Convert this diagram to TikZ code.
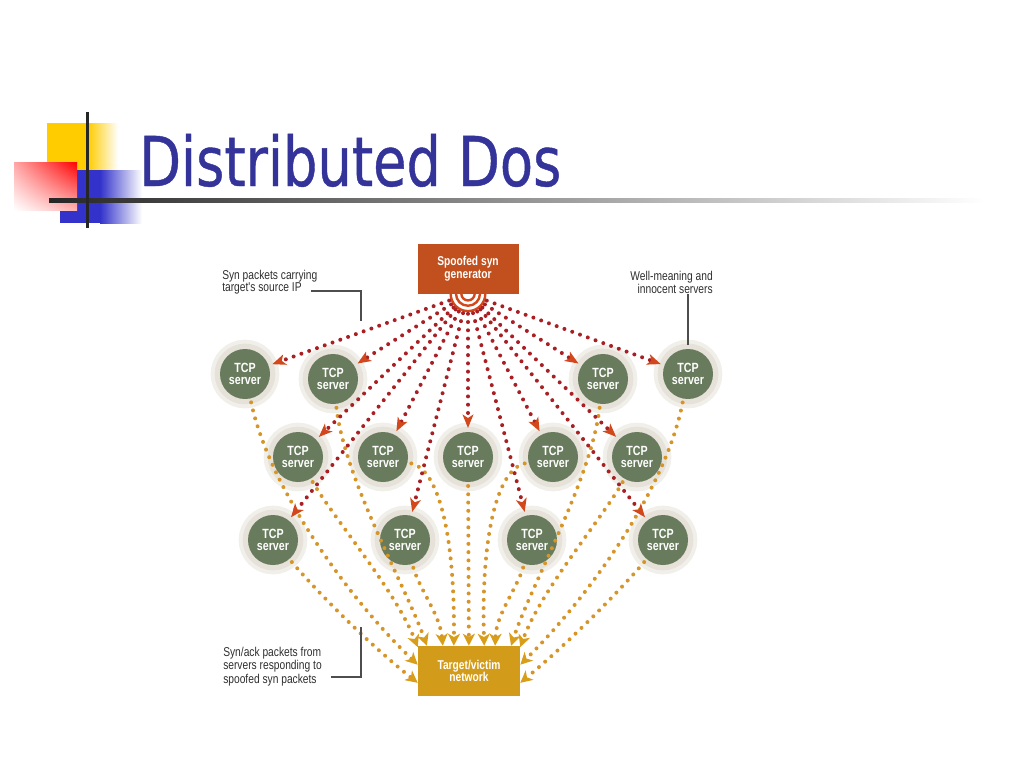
\documentclass[tikz,border=0pt]{standalone}
\usepackage{fontspec}
\usetikzlibrary{arrows.meta,shadings}
\newfontfamily\titlefont[FakeStretch=0.79,FakeBold=0.6]{DejaVu Sans}
\newfontfamily\figfont[FakeStretch=0.8]{Liberation Sans}
\definecolor{titleblue}{HTML}{333399}
\definecolor{slideyellow}{HTML}{FFCC00}
\definecolor{slideblue}{HTML}{3333CC}
\definecolor{slidered}{HTML}{FF0000}
\definecolor{gencolor}{HTML}{C2501E}
\definecolor{targetcolor}{HTML}{D39B1A}
\definecolor{servercolor}{HTML}{687B5C}
\definecolor{halocolor}{HTML}{E6E2D9}
\definecolor{syndot}{HTML}{A82024}
\definecolor{syntip}{HTML}{D2481C}
\definecolor{ackdot}{HTML}{D69528}
\definecolor{acktip}{HTML}{D89E1A}
\definecolor{notegray}{HTML}{2E2E2E}

\begin{document}
\begin{tikzpicture}[x=0.75pt, y=-0.75pt,
    server/.style={circle, fill=servercolor, minimum size=37.5pt, inner sep=0pt, outer sep=3pt,
        preaction={draw=halocolor!55, line width=14pt},
        preaction={draw=halocolor, line width=8pt},
        text=white, align=center, font=\figfont\fontsize{10pt}{9.2pt}\selectfont\bfseries},
    box/.style={rectangle, minimum width=75.75pt, minimum height=37.5pt, inner sep=0pt,
        text=white, align=center, font=\figfont\fontsize{9.6pt}{9.6pt}\selectfont\bfseries},
    synline/.style={draw=syndot, line width=3pt, line cap=round, dash pattern=on 0pt off 6.2pt,
        shorten <=15pt, -{Stealth[length=10pt, width=8pt, inset=2.5pt, color=syntip]}},
    ackline/.style={draw=ackdot, line width=3pt, line cap=round, dash pattern=on 0pt off 6.2pt,
        -{Stealth[length=9pt, width=9pt, inset=2.5pt, color=acktip]}},
    note/.style={inner sep=0pt, text=notegray, font=\figfont\fontsize{9.6pt}{8.8pt}\selectfont},
    leader/.style={draw=notegray!85, line width=0.9pt}]
    \useasboundingbox (0,0) rectangle (1024,768);

    \fill[slideyellow] (47,123) rectangle (88,172);
    \shade[left color=slideyellow, right color=white] (88,123) rectangle (118,172);
    \fill[slideblue] (60,170) rectangle (100,223);
    \shade[left color=slideblue, right color=white] (100,170) rectangle (142,223);
    \shade[upper right=slidered, upper left=slidered!35, lower right=slidered!30, lower left=white] (14,162) rectangle (77,210);
    \shade[left color=black!85, right color=white] (49,198) rectangle (985,202);
    \fill[black!85] (85.5,112) rectangle (88.5,228);
    \node[anchor=base west, inner sep=0pt, text=titleblue, font=\titlefont\fontsize{51.5pt}{60pt}\selectfont] (title) at (139,186) {Distributed Dos};

    \node[box, fill=gencolor] (gen) at (468,268.5) {Spoofed syn\\generator};
    \node[box, fill=targetcolor, minimum width=76.5pt] (target) at (469,671) {Target/victim\\network};

    \node[server] (r1a) at (245,374) {TCP\\server};
    \node[server] (r1b) at (333,379) {TCP\\server};
    \node[server] (r1c) at (603,379) {TCP\\server};
    \node[server] (r1d) at (688,374) {TCP\\server};
    \node[server] (r2a) at (298,457) {TCP\\server};
    \node[server] (r2b) at (383,457) {TCP\\server};
    \node[server] (r2c) at (468,457) {TCP\\server};
    \node[server] (r2d) at (553,457) {TCP\\server};
    \node[server] (r2e) at (637,457) {TCP\\server};
    \node[server] (r3a) at (273,540) {TCP\\server};
    \node[server] (r3b) at (405,540) {TCP\\server};
    \node[server] (r3c) at (532,540) {TCP\\server};
    \node[server] (r3d) at (663,540) {TCP\\server};

    \begin{scope}
        \clip (gen.south west) rectangle ([yshift=-20pt]gen.south east);
        \foreach \r in {5pt,9pt,13pt}
            \draw[syntip, line width=1.8pt] (gen.south) circle[radius=\r];
    \end{scope}

    \draw[ackline] (r1a) .. controls (270,490) and (350,600) .. (target.173);
    \draw[ackline] (r2a) .. controls (335,520) and (395,590) .. (target.155);
    \draw[ackline] (r3a) .. controls (320,595) and (370,645) .. (target.193);
    \draw[ackline] (r1b) .. controls (345,480) and (405,585) .. (target.149);
    \draw[ackline] (r3b) .. controls (420,590) and (440,615) .. (target.136);
    \draw[ackline] (r2b) .. controls (440,470) and (455,540) .. (target.121);
    \draw[ackline] (r2c) -- (target);
    \draw[ackline] (r2d) .. controls (496,470) and (481,540) .. (target.59);
    \draw[ackline] (r3c) .. controls (516,590) and (496,615) .. (target.44);
    \draw[ackline] (r1c) .. controls (591,480) and (531,585) .. (target.31);
    \draw[ackline] (r3d) .. controls (616,595) and (566,645) .. (target.-13);
    \draw[ackline] (r2e) .. controls (601,520) and (541,590) .. (target.25);
    \draw[ackline] (r1d) .. controls (666,490) and (586,600) .. (target.7);

    \foreach \s in {r1a,r1b,r1c,r1d,r2a,r2b,r2c,r2d,r2e,r3a,r3b,r3c,r3d}
        \draw[synline] (gen.south) -- (\s);

    \node[note, anchor=north west, align=left] (synnote) at (222,270) {Syn packets carrying\\target's source IP};
    \node[note, anchor=north east, align=right] (wellnote) at (713,271) {Well-meaning and\\innocent servers};
    \node[note, anchor=north west, align=left] (acknote) at (223,647) {Syn/ack packets from\\servers responding to\\spoofed syn packets};
    \coordinate (synend) at (311,291);
    \coordinate (synbend) at (361,321);
    \coordinate (ackend) at (331,677);
    \coordinate (ackbend) at (361,627);
    \draw[leader] (synend) -| (synbend);
    \draw[leader] (r1d |- wellnote.south) -- (r1d.north);
    \draw[leader] (ackend) -| (ackbend);
\end{tikzpicture}
\end{document}
